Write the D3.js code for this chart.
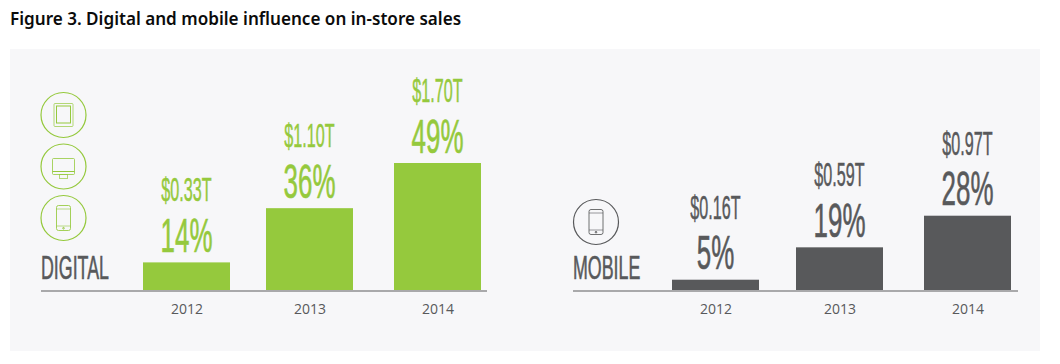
<!DOCTYPE html>
<html>
<head>
<meta charset="utf-8">
<script src="https://cdn.jsdelivr.net/npm/d3@7"></script>
<style>
  html, body { margin: 0; padding: 0; background: #fff; }
  svg { display: block; }
  .condensed { font-family: "Liberation Sans Narrow", "Liberation Sans", sans-serif; vector-effect: non-scaling-stroke; }
  .axis text { font-family: "Open Sans", sans-serif; font-size: 14px; fill: #58595b; }
</style>
</head>
<body>
<svg id="chart"></svg>
<script>
const years = ['2012', '2013', '2014'];

// dollar labels and percent labels as printed
const digitalDollars = ['$0.33T', '$1.10T', '$1.70T'];
const digitalPercents = ['14%', '36%', '49%'];
const mobileDollars = ['$0.16T', '$0.59T', '$0.97T'];
const mobilePercents = ['5%', '19%', '28%'];

// bar lengths in $ trillions
const digitalValues = [0.38, 1.10, 1.70];
const mobileValues = [0.15, 0.58, 1.0];

const GREEN = '#95c93d';
const GRAY = '#58595b';

const svg = d3.select('#chart').attr('width', 1060).attr('height', 364);

svg.append('rect')
    .attr('x', 10).attr('y', 49)
    .attr('width', 1030).attr('height', 302)
    .attr('fill', '#f7f7f9');

svg.append('text')
    .attr('x', 10).attr('y', 25)
    .style('font-family', '"Noto Sans", sans-serif')
    .style('font-size', '17.1px')
    .style('font-weight', 600)
    .attr('fill', '#0b0b0b')
    .text('Figure 3. Digital and mobile influence on in-store sales');

const AXIS_Y = 291;
const BAR_WIDTH = 87;

// same $ scale on both panels
const yScale = d3.scaleLinear().domain([0, 1.7]).range([AXIS_Y, 163]);

function drawPanel(cfg) {
  const xScale = d3.scaleOrdinal().domain(years).range(cfg.centers);
  const g = svg.append('g');

  g.selectAll('.bar')
    .data(cfg.values)
    .join('rect')
      .attr('class', 'bar')
      .attr('x', (d, i) => xScale(years[i]) - BAR_WIDTH / 2)
      .attr('y', d => yScale(d))
      .attr('width', BAR_WIDTH)
      .attr('height', d => AXIS_Y - yScale(d))
      .attr('fill', cfg.color);

  // axis line runs further left than the ticks
  g.append('line')
    .attr('x1', cfg.axisX[0]).attr('x2', cfg.axisX[1])
    .attr('y1', AXIS_Y).attr('y2', AXIS_Y)
    .attr('stroke', '#a9a9ab')
    .attr('stroke-width', 2);

  const xAxis = d3.axisBottom(xScale).tickSize(0).tickPadding(13);
  g.append('g')
    .attr('class', 'axis')
    .attr('transform', `translate(0,${AXIS_Y})`)
    .call(xAxis)
    .call(a => a.select('.domain').remove());

  g.selectAll('.pct')
    .data(cfg.percents)
    .join('text')
      .attr('class', 'pct condensed')
      .attr('text-anchor', 'middle')
      .attr('transform', (d, i) => `translate(${xScale(years[i])},${yScale(cfg.values[i]) - 10.5}) scale(0.53,1)`)
      .style('font-size', '49px')
      .attr('fill', cfg.color)
      .attr('stroke', cfg.color)
      .attr('stroke-width', 0.5)
      .text(d => d);

  g.selectAll('.dollar')
    .data(cfg.dollars)
    .join('text')
      .attr('class', 'dollar condensed')
      .attr('text-anchor', 'middle')
      .attr('transform', (d, i) => `translate(${xScale(years[i])},${yScale(cfg.values[i]) - 61}) scale(0.49,1)`)
      .style('font-size', '33px')
      .attr('fill', cfg.color)
      .attr('stroke', cfg.color)
      .attr('stroke-width', 0.4)
      .text(d => d);

  g.append('text')
    .attr('class', 'condensed')
    .attr('transform', `translate(${cfg.axisX[0]},279) scale(0.54,1)`)
    .style('font-size', '33px')
    .attr('fill', GRAY)
    .attr('stroke', GRAY)
    .attr('stroke-width', 0.5)
    .text(cfg.name);
}

drawPanel({
  name: 'DIGITAL', color: GREEN,
  centers: [186.5, 309.5, 437.5], axisX: [41, 487],
  values: digitalValues, percents: digitalPercents, dollars: digitalDollars
});

drawPanel({
  name: 'MOBILE', color: GRAY,
  centers: [715.5, 839.5, 967.5], axisX: [573, 1018],
  values: mobileValues, percents: mobilePercents, dollars: mobileDollars
});

// device icons
function iconBase(cx, cy, color) {
  const g = svg.append('g')
      .attr('transform', `translate(${cx},${cy})`)
      .attr('fill', 'none')
      .attr('stroke', color);
  g.append('circle').attr('r', 22.5).attr('stroke-width', 1.2);
  return g;
}

function phone(g) {
  g.append('rect').attr('x', -7).attr('y', -12.5).attr('width', 14).attr('height', 25).attr('rx', 2).attr('opacity', 0.85);
  g.append('line').attr('x1', -7).attr('x2', 7).attr('y1', -9).attr('y2', -9).attr('opacity', 0.6);
  g.append('line').attr('x1', -7).attr('x2', 7).attr('y1', 8).attr('y2', 8).attr('opacity', 0.6);
  g.append('circle').attr('cy', 10.2).attr('r', 0.8);
}

const tablet = iconBase(63.5, 115, GREEN);
tablet.append('rect').attr('x', -9.5).attr('y', -11.5).attr('width', 19).attr('height', 23).attr('rx', 1).attr('opacity', 0.7);
tablet.append('rect').attr('x', -7).attr('y', -9).attr('width', 14).attr('height', 17);

const monitor = iconBase(63.5, 166.5, GREEN);
monitor.append('rect').attr('x', -11).attr('y', -8).attr('width', 22).attr('height', 16).attr('rx', 1).attr('opacity', 0.8);
monitor.append('line').attr('x1', -11).attr('x2', 11).attr('y1', 5).attr('y2', 5);
monitor.append('rect').attr('x', -4).attr('y', 8).attr('width', 8).attr('height', 4).attr('opacity', 0.7);

phone(iconBase(63.5, 218, GREEN));
phone(iconBase(596, 222, GRAY));
</script>
</body>
</html>
